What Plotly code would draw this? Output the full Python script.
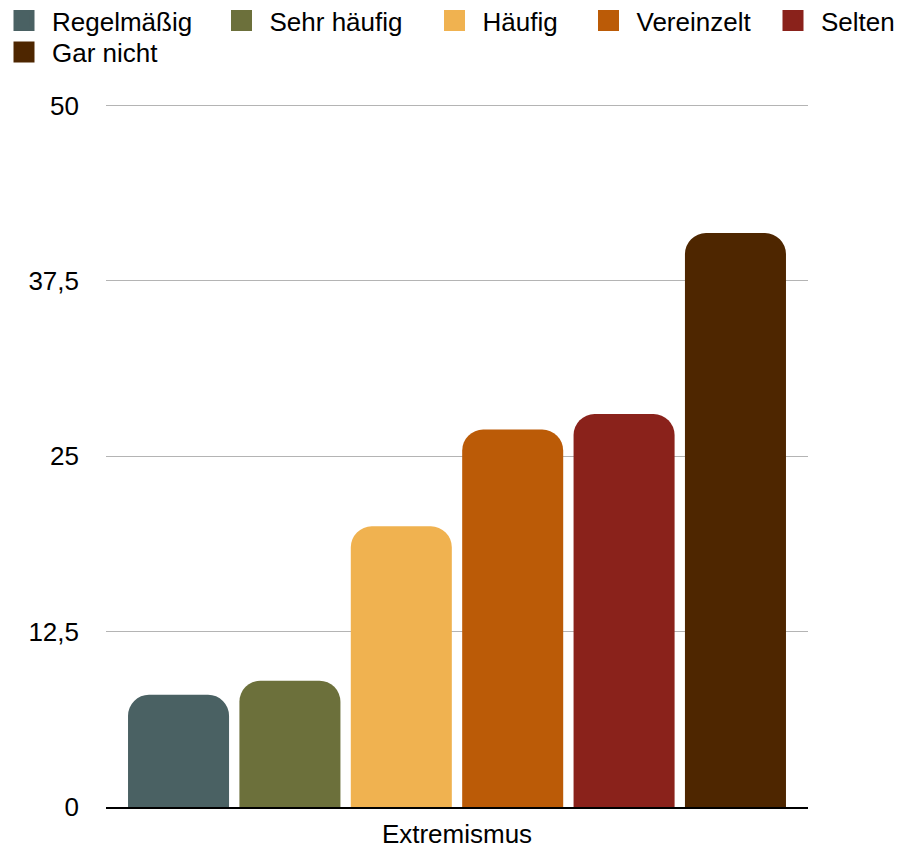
import plotly.graph_objects as go

categories = ["Extremismus"]
series_names = ["Regelmäßig", "Sehr häufig", "Häufig", "Vereinzelt", "Selten", "Gar nicht"]
series_values = [8.0, 9.0, 20.0, 26.9, 28.0, 40.9]
series_colors = ["#4a6163", "#6c703b", "#f0b250", "#bb5b07", "#8a221b", "#4e2600"]
y_ticks = [0, 12.5, 25, 37.5, 50]

FONT = "Liberation Sans, Arial, Helvetica, sans-serif"
W, H = 899, 840  # page body adds an 8px offset inside the 907x848 window
ML, MR, MT, MB = 98, 99, 96, 41
PW, PH = W - ML - MR, H - MT - MB

# legend entry placement (pixels from figure top-left: left edge, top edge)
legend_pos = [(-12, -11), (205.5, -11), (418.5, -11), (572.5, -11), (757, -11), (-12, 20.5)]

fig = go.Figure()
for name, val, col in zip(series_names, series_values, series_colors):
    fig.add_trace(go.Bar(
        name=name, x=categories, y=[val], showlegend=False,
        marker=dict(color=col, line=dict(width=0)),
    ))

legend_layout = {}
for i, (name, col) in enumerate(zip(series_names, series_colors)):
    key = "legend" if i == 0 else f"legend{i + 1}"
    fig.add_trace(go.Scatter(
        name=name, x=[None], y=[None], mode="markers",
        marker=dict(symbol="square", size=16, color=col, line=dict(color=col, width=5)),
        legend=key, hoverinfo="skip",
    ))
    lx, ly = legend_pos[i]
    legend_layout[key] = dict(
        orientation="h", xref="paper", yref="paper",
        x=(lx - ML) / PW, y=1 - (ly - MT) / PH, xanchor="left", yanchor="top",
        font=dict(family=FONT, size=26, color="#000000"),
        itemwidth=46, bgcolor="rgba(0,0,0,0)", borderwidth=0,
    )

fig.update_layout(
    width=W, height=H,
    margin=dict(l=ML, r=MR, t=MT, b=MB, autoexpand=False),
    paper_bgcolor="white", plot_bgcolor="white",
    barmode="group", bargap=0.048, bargroupgap=0.093,
    barcornerradius=21,
    separators=",.",
    font=dict(family=FONT, size=26, color="#000000"),
    showlegend=True,
    **legend_layout,
)
fig.update_yaxes(
    range=[0, 50.1], tickvals=y_ticks, showgrid=True, gridcolor="#b4b4b4", gridwidth=1,
    zeroline=False, showline=False, ticks="", ticklabelstandoff=26,
    tickfont=dict(family=FONT, size=26, color="#000000"),
)
fig.update_xaxes(
    showline=True, linecolor="#000000", linewidth=2, ticks="", showgrid=False,
    ticklabelstandoff=3,
    tickfont=dict(family=FONT, size=26, color="#000000"),
)

fig.write_html("out.html")
